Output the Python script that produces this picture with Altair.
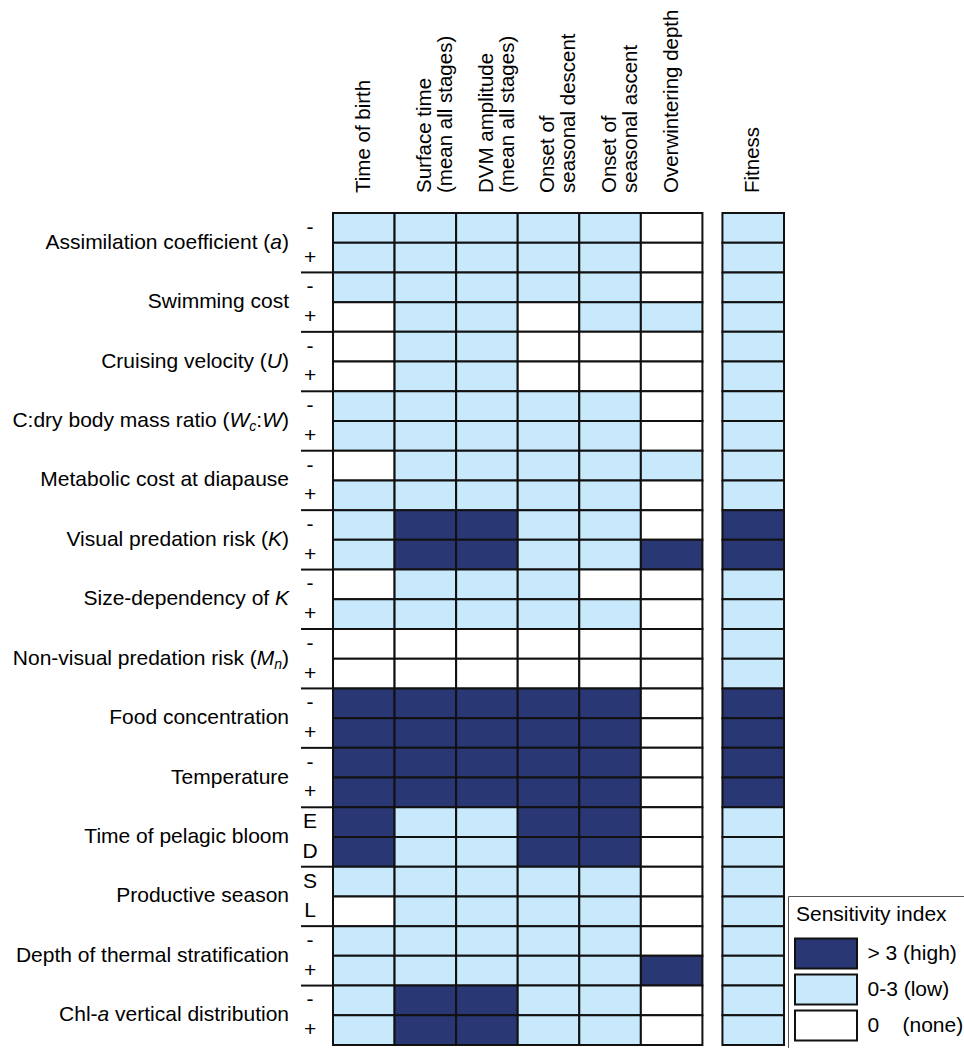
import re

import altair as alt
import pandas as pd

FONT = "Liberation Sans"

# ---- data -----------------------------------------------------------------
columns = [
    "Time of birth",
    "Surface time\n(mean all stages)",
    "DVM amplitude\n(mean all stages)",
    "Onset of\nseasonal descent",
    "Onset of\nseasonal ascent",
    "Overwintering depth",
    "Fitness",
]

# _x_ = italic, ~x~ = italic subscript
parameters = [
    "Assimilation coefficient (_a_)",
    "Swimming cost",
    "Cruising velocity (_U_)",
    "C:dry body mass ratio (_W_~c~:_W_)",
    "Metabolic cost at diapause",
    "Visual predation risk (_K_)",
    "Size-dependency of _K_",
    "Non-visual predation risk (_M_~n~)",
    "Food concentration",
    "Temperature",
    "Time of pelagic bloom",
    "Productive season",
    "Depth of thermal stratification",
    "Chl-_a_ vertical distribution",
]

variations = [
    ["-", "+"], ["-", "+"], ["-", "+"], ["-", "+"], ["-", "+"],
    ["-", "+"], ["-", "+"], ["-", "+"], ["-", "+"], ["-", "+"],
    ["E", "D"], ["S", "L"], ["-", "+"], ["-", "+"],
]

# sensitivity code per row: 0 = none, 1 = low (0-3), 2 = high (> 3)
time_of_birth =    [1, 1, 1, 0, 0, 0, 1, 1, 0, 1, 1, 1, 0, 1, 0, 0, 2, 2, 2, 2, 2, 2, 1, 0, 1, 1, 1, 1]
surface_time =     [1, 1, 1, 1, 1, 1, 1, 1, 1, 1, 2, 2, 1, 1, 0, 0, 2, 2, 2, 2, 1, 1, 1, 1, 1, 1, 2, 2]
dvm_amplitude =    [1, 1, 1, 1, 1, 1, 1, 1, 1, 1, 2, 2, 1, 1, 0, 0, 2, 2, 2, 2, 1, 1, 1, 1, 1, 1, 2, 2]
seasonal_descent = [1, 1, 1, 0, 0, 0, 1, 1, 1, 1, 1, 1, 1, 1, 0, 0, 2, 2, 2, 2, 2, 2, 1, 1, 1, 1, 1, 1]
seasonal_ascent =  [1, 1, 1, 1, 0, 0, 1, 1, 1, 1, 1, 1, 0, 1, 0, 0, 2, 2, 2, 2, 2, 2, 1, 1, 1, 1, 1, 1]
overwintering =    [0, 0, 0, 1, 0, 0, 0, 0, 1, 0, 0, 2, 0, 0, 0, 0, 0, 0, 0, 0, 0, 0, 0, 0, 0, 2, 0, 0]
fitness =          [1, 1, 1, 1, 1, 1, 1, 1, 1, 1, 2, 2, 1, 1, 1, 1, 2, 2, 2, 2, 1, 1, 1, 1, 1, 1, 1, 1]

sensitivity = [time_of_birth, surface_time, dvm_amplitude, seasonal_descent,
               seasonal_ascent, overwintering, fitness]

levels = ["0\u00a0\u00a0\u00a0\u00a0(none)", "0-3 (low)", "> 3 (high)"]
level_colors = {"> 3 (high)": "#293875", "0-3 (low)": "#C7E9FB",
                "0\u00a0\u00a0\u00a0\u00a0(none)": "#FFFFFF"}

# ---- layout helpers ---------------------------------------------------------
FITNESS_GAP = 0.325          # blank space (in column widths) before Fitness
N_ROWS = 2 * len(parameters)
PLOT_W, PLOT_H = 451, 832


def column_start(i):
    return i if i < len(columns) - 1 else i + FITNESS_GAP


# Arial / Liberation Sans advance widths (1/1000 em)
ADV = {" ": 278, "(": 333, ")": 333, ":": 278, "-": 333}
ADV.update(dict(zip("ABCDEFGHIJKLMNOPQRSTUVWXYZ",
                    [667, 667, 722, 722, 667, 611, 778, 722, 278, 500, 667, 556, 833,
                     722, 778, 667, 778, 722, 667, 611, 722, 667, 944, 667, 667, 611])))
ADV.update(dict(zip("abcdefghijklmnopqrstuvwxyz",
                    [556, 556, 500, 556, 556, 278, 556, 556, 222, 222, 500, 222, 833,
                     556, 556, 556, 556, 333, 500, 278, 556, 500, 722, 500, 500, 500])))

LABEL_SIZE, SUB_SIZE = 21, 14
LABEL_RIGHT = -44            # px left of the grid


def text_width(s, size):
    return sum(ADV.get(ch, 556) for ch in s) * size / 1000


def split_markup(markup):
    parts = []
    for piece in re.split(r"(_[^_]+_|~[^~]+~)", markup):
        if not piece:
            continue
        if piece.startswith("_"):
            parts.append((piece[1:-1], "italic"))
        elif piece.startswith("~"):
            parts.append((piece[1:-1], "sub"))
        else:
            parts.append((piece, "normal"))
    return parts


# ---- tables ---------------------------------------------------------------
cells = pd.DataFrame([
    {"column": columns[c], "x0": column_start(c), "x1": column_start(c) + 1,
     "row": r, "row_end": r + 1, "level": levels[sensitivity[c][r]]}
    for c in range(len(columns)) for r in range(N_ROWS)
])

headers = pd.DataFrame({"header": columns,
                        "xc": [column_start(i) + 0.5 for i in range(len(columns))]})

signs = pd.DataFrame([{"sign": variations[g][k], "yc": 2 * g + k + 0.5}
                      for g in range(len(parameters)) for k in range(2)])

separators = pd.DataFrame({"yb": list(range(2, N_ROWS, 2))})

label_rows = []
for g, markup in enumerate(parameters):
    right = LABEL_RIGHT
    for txt, style in reversed(split_markup(markup)):
        size = SUB_SIZE if style == "sub" else LABEL_SIZE
        core = txt.strip()
        lead = len(txt) - len(txt.lstrip())
        trail = len(txt) - len(txt.rstrip())
        right -= trail * ADV[" "] * size / 1000
        label_rows.append({"part": core, "style": style, "px": right, "yc": 2 * g + 1})
        right -= text_width(core, size) + lead * ADV[" "] * size / 1000
labels = pd.DataFrame(label_rows)

# ---- scales ---------------------------------------------------------------
xscale = alt.Scale(domain=[0, len(columns) + FITNESS_GAP], nice=False, zero=False)
yscale = alt.Scale(domain=[0, N_ROWS], reverse=True, nice=False, zero=False)

# ---- layers ---------------------------------------------------------------
heat = alt.Chart(cells).mark_rect(stroke="#111111", strokeWidth=2).encode(
    x=alt.X("x0:Q", scale=xscale, axis=None),
    x2="x1:Q",
    y=alt.Y("row:Q", scale=yscale, axis=None),
    y2="row_end:Q",
    fill=alt.Fill(
        "level:N",
        scale=alt.Scale(domain=[levels[2], levels[1], levels[0]],
                        range=[level_colors[levels[2]], level_colors[levels[1]],
                               level_colors[levels[0]]]),
        legend=alt.Legend(
            title="Sensitivity index", orient="none", legendX=455, legendY=683,
            direction="vertical",
            symbolType="M-2,-0.96H2V0.96H-2Z", symbolSize=961,
            symbolStrokeColor="#111111", symbolStrokeWidth=2,
            symbolOffset=13.5, labelOffset=25, rowPadding=-3,
            padding=8, strokeColor="#555555", fillColor="white",
            titleFont=FONT, titleFontSize=21, titleFontWeight="normal",
            titleColor="black", titlePadding=12, titleLimit=300,
            labelFont=FONT, labelFontSize=21, labelColor="black", labelLimit=300,
        ),
    ),
)

header_text = alt.Chart(headers).mark_text(
    angle=270, align="left", baseline="middle", lineBreak="\n", lineHeight=21,
    font=FONT, fontSize=20.5, color="black",
).encode(
    x=alt.X("xc:Q", scale=xscale, axis=None),
    y=alt.value(-20),
    text="header:N",
)

sign_text = alt.Chart(signs).mark_text(
    align="center", baseline="middle", font=FONT, fontSize=21, color="black",
).encode(
    x=alt.value(-23),
    y=alt.Y("yc:Q", scale=yscale, axis=None),
    text="sign:N",
)

separator_rules = alt.Chart(separators).mark_rule(color="#111111", strokeWidth=2).encode(
    x=alt.value(-32),
    x2=alt.value(0),
    y=alt.Y("yb:Q", scale=yscale, axis=None),
)


def label_layer(style, size, dy, font_style):
    return alt.Chart(labels).transform_filter(
        alt.datum.style == style
    ).mark_text(
        align="right", baseline="middle", font=FONT, fontSize=size, dy=dy,
        fontStyle=font_style, color="black",
    ).encode(
        x=alt.X("px:Q", scale=None, axis=None),
        y=alt.Y("yc:Q", scale=yscale, axis=None),
        text="part:N",
    )


chart = alt.layer(
    heat,
    separator_rules,
    header_text,
    sign_text,
    label_layer("normal", LABEL_SIZE, 0, "normal"),
    label_layer("italic", LABEL_SIZE, 0, "italic"),
    label_layer("sub", SUB_SIZE, 6, "italic"),
).properties(
    width=PLOT_W,
    height=PLOT_H,
    autosize=alt.AutoSizeParams(type="none"),
    padding={"left": 333, "top": 213, "right": 180, "bottom": 3},
    background="white",
).configure_view(stroke=None)

chart.save("out.html", embed_options={"renderer": "svg", "actions": False})
